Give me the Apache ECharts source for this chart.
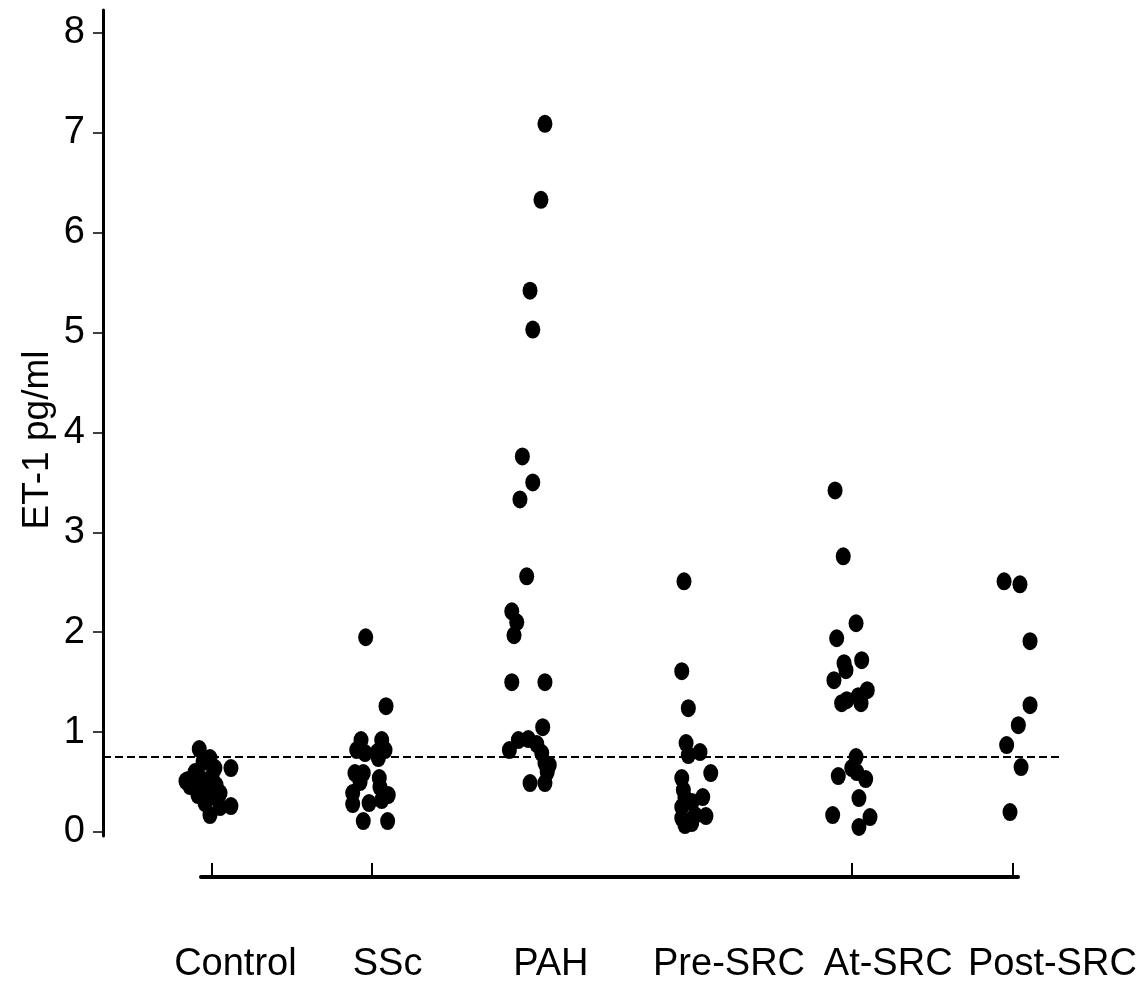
<!DOCTYPE html>
<html><head><meta charset="utf-8">
<script src="https://cdn.jsdelivr.net/npm/echarts@6/dist/echarts.min.js"></script>
<style>html,body{margin:0;padding:0;background:#fff}#c{width:1140px;height:984px}</style>
</head><body><div id="c"></div>
<script>
// ---- data ----
const categories = ['Control', 'SSc', 'PAH', 'Pre-SRC', 'At-SRC', 'Post-SRC'];
const yTickValues = [0, 1, 2, 3, 4, 5, 6, 7, 8];
const referenceLevel = 0.75;

const controlValues = [0.83, 0.74, 0.64, 0.70, 0.64, 0.60, 0.52, 0.54, 0.56, 0.46, 0.44, 0.47, 0.37, 0.35, 0.39, 0.29, 0.25, 0.26, 0.17, 0.51];
const controlJitter = [-0.076, -0.009, 0.122, -0.052, 0.022, -0.102, -0.146, -0.071, 0.004, -0.134, -0.040, 0.029, -0.084, -0.009, 0.054, -0.040, 0.054, 0.122, -0.009, -0.159];

const sscValues = [1.95, 1.26, 0.92, 0.92, 0.82, 0.79, 0.80, 0.82, 0.74, 0.59, 0.59, 0.50, 0.54, 0.45, 0.39, 0.37, 0.32, 0.28, 0.29, 0.11, 0.11];
const sscJitter = [-0.037, 0.090, -0.066, 0.063, -0.093, -0.041, 0.036, 0.084, 0.042, -0.104, -0.052, -0.072, 0.048, 0.052, -0.118, 0.104, 0.063, -0.118, -0.016, -0.052, 0.100];

const pahValues = [7.09, 6.33, 5.42, 5.03, 3.76, 3.50, 3.33, 2.56, 2.21, 2.10, 1.97, 1.50, 1.50, 1.05, 0.82, 0.92, 0.93, 0.88, 0.79, 0.69, 0.67, 0.60, 0.49, 0.49];
const pahJitter = [0.082, 0.057, -0.011, 0.006, -0.059, 0.006, -0.074, -0.032, -0.125, -0.094, -0.111, -0.125, 0.082, 0.068, -0.140, -0.084, -0.022, 0.031, 0.062, 0.082, 0.109, 0.096, -0.011, 0.082];

const preSrcValues = [2.51, 1.61, 1.24, 0.89, 0.77, 0.80, 0.59, 0.54, 0.42, 0.34, 0.35, 0.25, 0.17, 0.16, 0.07, 0.09, 0.14, 0.30];
const preSrcJitter = [-0.050, -0.064, -0.023, -0.037, -0.023, 0.050, 0.117, -0.064, -0.054, -0.044, 0.067, -0.064, 0.019, 0.087, -0.044, -0.002, -0.064, 0.000];

const atSrcValues = [3.42, 2.76, 2.09, 1.94, 1.72, 1.69, 1.62, 1.52, 1.42, 1.36, 1.32, 1.29, 1.29, 0.75, 0.64, 0.60, 0.56, 0.53, 0.34, 0.17, 0.15, 0.05];
const atSrcJitter = [-0.107, -0.056, 0.024, -0.097, 0.059, -0.051, -0.039, -0.114, 0.094, 0.038, -0.034, -0.066, 0.055, 0.024, -0.003, 0.028, -0.087, 0.084, 0.042, -0.122, 0.111, 0.042];

const postSrcValues = [2.51, 2.48, 1.91, 1.27, 1.07, 0.87, 0.65, 0.20];
const postSrcJitter = [-0.052, 0.047, 0.110, 0.110, 0.037, -0.036, 0.054, -0.015];

const groupValues = [controlValues, sscValues, pahValues, preSrcValues, atSrcValues, postSrcValues];
const groupJitter = [controlJitter, sscJitter, pahJitter, preSrcJitter, atSrcJitter, postSrcJitter];

// ---- chart ----
const FONT = '"Liberation Sans", Arial, sans-serif';
const dot = 'path://M0,-1A1,1 0 1,1 0,1A1,1 0 1,1 0,-1Z';
const labelShift = [24, 16, 19, 37, 36, 40];
const rich = {};
labelShift.forEach((s, i) => {
  rich['l' + i] = { fontFamily: FONT, fontSize: 38, color: '#000', padding: [0, 0, 0, 2 * s] };
});

const series = groupValues.map((vals, gi) => ({
  type: 'scatter',
  xAxisIndex: 0, yAxisIndex: 0,
  name: categories[gi],
  symbol: dot,
  symbolSize: [15, 18],
  itemStyle: { color: '#000', opacity: 1 },
  data: vals.map((v, k) => [gi + groupJitter[gi][k], v]),
  silent: true,
  z: 3
}));
series[0].markLine = {
  silent: true,
  symbol: ['none', 'none'],
  label: { show: false },
  lineStyle: { type: [8, 4], color: '#000', width: 2 },
  data: [{ yAxis: referenceLevel }],
  z: 2
};

const chart = echarts.init(document.getElementById('c'), null, { renderer: 'canvas' });
chart.setOption({
  animation: false,
  backgroundColor: '#fff',
  grid: [
    { left: 103, top: 10, width: 959, height: 826 },
    { left: 201, top: 870, width: 817, height: 12 }
  ],
  xAxis: [
    { gridIndex: 0, type: 'value', min: -0.6767, max: 5.3095, show: false },
    {
      gridIndex: 1, type: 'value', min: -0.065, max: 5.035,
      axisLine: { show: true, onZero: false, lineStyle: { color: '#000', width: 4 } },
      axisTick: { show: true, inside: true, length: 14, lineStyle: { color: '#000', width: 2 }, customValues: [0, 1, 4, 5] },
      axisLabel: {
        show: true, margin: 69, customValues: [0, 1, 2, 3, 4, 5],
        formatter: v => { const i = Math.round(v); return '{l' + i + '|' + categories[i] + '}'; },
        rich: rich
      },
      splitLine: { show: false }
    }
  ],
  yAxis: [
    {
      gridIndex: 0, type: 'value', min: -0.04, max: 8.23,
      name: 'ET-1 pg/ml', nameLocation: 'middle', nameGap: 47, nameRotate: 90, nameMoveOverlap: false,
      nameTextStyle: { fontFamily: FONT, fontSize: 37, color: '#000', padding: [0, 34, 0, 0] },
      axisLine: { show: true, onZero: false, lineStyle: { color: '#000', width: 3 } },
      axisTick: { show: true, length: 10, lineStyle: { color: '#000', width: 1.5 }, customValues: yTickValues },
      axisLabel: { show: true, margin: 18, fontFamily: FONT, fontSize: 38, color: '#000', customValues: yTickValues },
      splitLine: { show: false }
    },
    { gridIndex: 1, type: 'value', show: false }
  ],
  series: series
});
</script>
</body></html>
